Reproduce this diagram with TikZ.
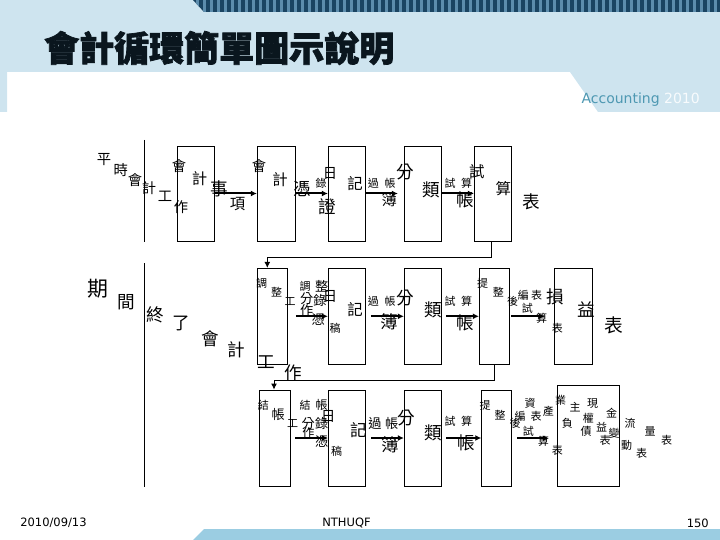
\documentclass[tikz,border=0pt]{standalone}
\usepackage{fontspec}
\setmainfont{DejaVu Sans}
\newfontfamily\cjk{Noto Sans CJK TC}
\newfontfamily\cjkhead{Noto Sans CJK TC}[BoldFeatures={FakeBold=2}]
\usetikzlibrary{arrows.meta}

\definecolor{headblue}{RGB}{206,228,239}
\definecolor{stripedark}{RGB}{26,68,98}
\definecolor{stripelight}{RGB}{92,140,172}
\definecolor{footblue}{RGB}{155,205,226}
\definecolor{accteal}{RGB}{78,152,178}
\definecolor{titleink}{RGB}{10,22,30}

\tikzset{
  box/.style={draw, line width=0.9pt, inner sep=0pt},
  flow/.style={-{Latex[length=6pt,width=6pt]}, line width=2pt},
  back/.style={-{Latex[length=6pt,width=6pt]}, line width=0.9pt},
  zi/.style={inner sep=0pt, font=\cjk\fontsize{\fpeval{#1*1.1}}{\fpeval{#1*1.1}}\selectfont},
  foot/.style={inner sep=0pt, font=\fontsize{11.5}{11.5}\selectfont}
}

\begin{document}
\begin{tikzpicture}[x=1pt, y=-1pt]
\useasboundingbox (0,0) rectangle (720,540);
\fill[headblue] (0,0) -- (720,0) -- (720,112) -- (598,112) -- (570,72) -- (7,72) -- (7,112) -- (0,112) -- cycle;
\begin{scope}
\clip (193,0) -- (720,0) -- (720,12) -- (204,12) -- cycle;
\fill[stripedark] (190,0) rectangle (720,12);
\foreach \i in {0,...,76} \fill[stripelight] (196+7*\i,0) rectangle ++(2.5,12);
\end{scope}
\fill[footblue] (204,529) -- (720,529) -- (720,540) -- (193,540) -- cycle;

\node[inner sep=0pt, anchor=west, text=titleink, font=\cjkhead\bfseries\fontsize{35}{35}\selectfont] (title) at (44,48) {會計循環簡單圖示說明};
\node[inner sep=0pt, anchor=east, font=\fontsize{14}{14}\selectfont] (brand) at (700,100)
    {\textcolor{accteal}{Accounting} \textcolor{white!85!headblue}{2010}};
\node[foot] (date) at (53.5,523) {2010/09/13};
\node[foot] (org) at (346.5,523) {NTHUQF};
\node[foot, anchor=east] (page) at (709,523) {150};

% 平時會計工作
\node[box, minimum width=37pt, minimum height=95pt] (s1) at (195.8,193.5) {};
\node[box, minimum width=38.4pt, minimum height=95pt] (s2) at (276.5,193.5) {};
\node[box, minimum width=37pt, minimum height=95pt] (s3) at (346.8,193.5) {};
\node[box, minimum width=37pt, minimum height=95pt] (s4) at (422.8,193.5) {};
\node[box, minimum width=37.4pt, minimum height=95pt] (s5) at (493,193.5) {};
% 期間終了會計工作
\node[box, minimum width=30pt, minimum height=96pt] (s6) at (272.3,316.3) {};
\node[box, minimum width=37pt, minimum height=96pt] (s7) at (346.8,316.3) {};
\node[box, minimum width=37.4pt, minimum height=96pt] (s8) at (423,316.3) {};
\node[box, minimum width=30pt, minimum height=96pt] (s9) at (494.3,316.3) {};
\node[box, minimum width=38pt, minimum height=96pt] (s10) at (573.3,316.3) {};
% 結帳工作
\node[box, minimum width=31.4pt, minimum height=96pt] (s11) at (275,438) {};
\node[box, minimum width=37.4pt, minimum height=96pt] (s12) at (347,438) {};
\node[box, minimum width=37.4pt, minimum height=96pt] (s13) at (423,438) {};
\node[box, minimum width=30pt, minimum height=95.3pt] (s14) at (496.7,438.3) {};
\node[box, minimum width=62pt, minimum height=101pt] (s15) at (588.3,436.3) {};

\coordinate (brk1) at (144.3,140);
\coordinate (brk2) at (144.3,263.3);
\draw[line width=0.9pt] (brk1) -- ++(0,101.7);
\draw[line width=0.9pt] (brk2) -- ++(0,223.7);

\draw[flow] (s1.east) -- (s2.west);
\draw[flow] (s2.east) -- (s3.west);
\draw[flow] (s3.east) -- ([xshift=-6pt]s4.west);
\draw[flow] (s4.east) -- (s5.west);
\draw[flow] ([xshift=8pt]s6.east) -- (s7.west);
\draw[flow] ([xshift=5pt]s7.east) -- (s8.west);
\draw[flow] ([xshift=4pt]s8.east) -- (s9.west);
\draw[flow] ([xshift=1.5pt]s9.east) -- ([xshift=-9pt]s10.west);
\draw[flow] ([xshift=4pt]s11.east) -- (s12.west);
\draw[flow] ([xshift=5pt]s12.east) -- (s13.west);
\draw[flow] ([xshift=4pt]s13.east) -- ([yshift=0.3pt]s14.west);
\draw[flow] ([xshift=5pt]s14.east) -- ([xshift=-8pt]s15.west |- s14.east);
\draw[back] ([xshift=-2pt]s5.south) -- ++(0,16) -| ([xshift=-5pt]s6.north);
\draw[back] (s9.south) -- ++(0,16) -| ([xshift=-1pt]s11.north);

\foreach \x/\y/\s/\t [count=\n] in {104/160/13/平, 120.7/170/13/時, 135/180/13/會, 149/188.3/13/計,
    165/196/13/工, 181/206.7/13/作, 179/166/13/會, 199.5/179/14/計, 219/189/16/事, 237.5/204/14/項,
    259/166/13/會, 280/180/14/計, 302/189/16/憑, 321/183.3/10/錄, 330/173.3/13/日, 327/206.7/16/證,
    355/183.3/14/記, 373.3/183.3/10/過, 390/183.3/10/帳, 389.3/200/14/簿, 405/171.7/16/分,
    431.7/190/16/類, 450/183.3/10/試, 466.7/183.3/10/算, 465/200/16/帳, 476.7/171.7/14/試,
    503.3/188.3/14/算, 531.7/201.7/16/表}
  \node[zi=\s] (ra\n) at (\x,\y) {\t};

\foreach \x/\y/\s/\t [count=\n] in {98.3/288.3/19/期, 126.7/301.7/16/間, 155/315/16/終, 181.7/323.3/16/了,
    210/338.3/16/會, 236.7/350/16/計, 266.7/361.7/16/工, 293.3/373.3/16/作, 261.7/283.3/10/調,
    276.7/291.7/10/整, 290/301.7/10/工, 305/286.7/10/調, 321.7/286.7/12/整, 306.7/299/12/分,
    306.7/311/12/作, 320/300/12/錄, 330/296.7/13/日, 318.3/320/12/憑, 335/328.3/10/稿, 355/310/14/記,
    373.3/301.7/10/過, 390/301.7/10/帳, 405/298.3/16/分, 389.3/321.7/16/簿, 433.3/310/16/類,
    450/301.7/10/試, 466.7/301.7/10/算, 465/323.3/16/帳, 482.7/283.3/10/提, 498.3/291.7/10/整,
    512.7/301.7/10/後, 523.3/295/10/編, 536.7/295/10/表, 555/296.7/16/損, 527.3/308.3/10/試,
    541.7/318.3/10/算, 557.3/328.3/10/表, 586.7/310/16/益, 614/325/17/表}
  \node[zi=\s] (rb\n) at (\x,\y) {\t};

\foreach \x/\y/\s/\t [count=\n] in {263.3/405/10/結, 278.3/415/12/帳, 292.7/423.3/10/工, 308.3/433.3/11/作,
    305/405/10/結, 321.7/405/11/帳, 308.3/423.3/12/分, 321.7/423.3/12/錄, 328.3/416.7/13/日,
    321.7/441.7/12/憑, 336.7/451.7/10/稿, 358.3/430/15/記, 375/423.3/12/過, 391.7/423.3/12/帳,
    406.7/418.3/16/分, 390/445/16/簿, 433.3/433.3/16/類, 450/421.7/10/試, 466.7/421.7/10/算,
    466.7/443.3/16/帳, 485/405/10/提, 500/415/10/整, 515/423.3/10/後, 520/416.7/10/編, 530/403.3/10/資,
    536/416.7/10/表, 548.3/411.7/10/產, 528.3/431.7/10/試, 543.3/441.7/10/算, 557.3/450/10/表,
    560.7/400/10/業, 575/406.7/10/主, 592.7/403.3/10/現, 567.3/423.3/10/負, 588.3/418.3/10/權,
    611.7/413.3/10/金, 586/431.7/10/債, 601.7/426.7/10/益, 614/433.3/10/變, 605/440/10/表,
    630/423.3/10/流, 626.7/445/10/動, 650/431.7/10/量, 641.7/453.3/10/表, 666.7/440/10/表}
  \node[zi=\s] (rc\n) at (\x,\y) {\t};
\end{tikzpicture}
\end{document}
